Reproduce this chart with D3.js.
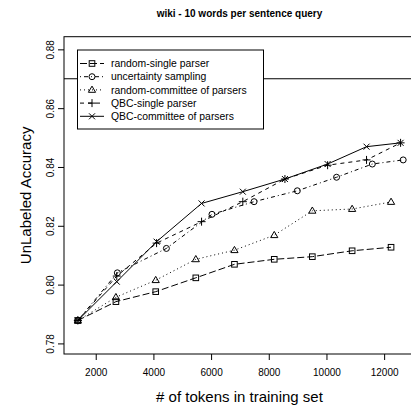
<!DOCTYPE html>
<html>
<head>
<meta charset="utf-8">
<script src="https://cdn.jsdelivr.net/npm/d3@7"></script>
<style>
  body { margin: 0; background: #fff; }
  text { font-family: "Liberation Sans", Arial, sans-serif; fill: #000; }
</style>
</head>
<body>
<div id="vis"></div>
<script>
// values
var tokensRandom = [1380, 2700, 4080, 5470, 6810, 8190, 9510, 10890, 12240];
var tokensUncert = [1380, 2750, 4450, 6030, 7490, 8990, 10350, 11590, 12660];
var tokensQbc    = [1380, 2730, 4110, 5670, 7100, 8560, 10040, 11390, 12570];

var randomSingle    = [0.7878, 0.7942, 0.7976, 0.8023, 0.8069, 0.8086, 0.8095, 0.8115, 0.8127];
var uncertainty     = [0.7878, 0.8040, 0.8123, 0.8239, 0.8282, 0.8319, 0.8365, 0.8410, 0.8424];
var randomCommittee = [0.7878, 0.7957, 0.8015, 0.8086, 0.8117, 0.8168, 0.8251, 0.8257, 0.8281];
var qbcSingle       = [0.7878, 0.8029, 0.8141, 0.8214, 0.8282, 0.8359, 0.8406, 0.8424, 0.8482];
var qbcCommittee    = [0.7878, 0.8010, 0.8146, 0.8276, 0.8316, 0.8359, 0.8410, 0.8469, 0.8482];

var seriesNames = ["random-single parser", "uncertainty sampling", "random-committee of parsers",
                   "QBC-single parser", "QBC-committee of parsers"];
var xTicks = [2000, 4000, 6000, 8000, 10000, 12000];
var yTicks = [0.78, 0.80, 0.82, 0.84, 0.86, 0.88];
var refLine = 0.87;

var width = 411, height = 406;
var plot = {left: 64, right: 415, top: 36.7, bottom: 354};

var series = [
  {name: seriesNames[0], x: tokensRandom, y: randomSingle,    dash: "7,3",     pch: "square"},
  {name: seriesNames[1], x: tokensUncert, y: uncertainty,     dash: "1,3,4,3", pch: "circle"},
  {name: seriesNames[2], x: tokensRandom, y: randomCommittee, dash: "1,3",     pch: "triangle"},
  {name: seriesNames[3], x: tokensQbc,    y: qbcSingle,       dash: "4,4",     pch: "plus"},
  {name: seriesNames[4], x: tokensQbc,    y: qbcCommittee,    dash: null,      pch: "cross"}
];

var svg = d3.select("#vis").append("svg")
  .attr("width", width)
  .attr("height", height);

var xScale = d3.scaleLinear()
  .domain([900, 13070])
  .range([plot.left, plot.right]);

var yScale = d3.scaleLinear()
  .domain([0.7764, 0.8843])
  .range([plot.bottom, plot.top]);

// title
svg.append("text")
  .attr("x", (plot.left + plot.right) / 2)
  .attr("y", 17)
  .attr("text-anchor", "middle")
  .style("font-size", "10px")
  .style("font-weight", "bold")
  .text("wiki - 10 words per sentence query");

// x axis
var xAxis = svg.append("g")
  .attr("transform", "translate(0," + plot.bottom + ")")
  .call(d3.axisBottom(xScale).tickValues(xTicks).tickSize(6).tickPadding(9).tickFormat(d3.format("d")));
xAxis.select(".domain").remove();
xAxis.selectAll("text").style("font-size", "10px").style("font-family", "Liberation Sans, Arial, sans-serif");

// y axis, labels parallel to the axis
var yAxis = svg.append("g")
  .attr("transform", "translate(" + plot.left + ",0)")
  .call(d3.axisLeft(yScale).tickValues(yTicks).tickSize(6).tickFormat(d3.format(".2f")));
yAxis.select(".domain").remove();
yAxis.selectAll("text")
  .style("font-size", "10px")
  .style("font-family", "Liberation Sans, Arial, sans-serif")
  .attr("text-anchor", "middle")
  .attr("x", 0)
  .attr("y", 0)
  .attr("dy", "0.32em")
  .attr("transform", "translate(-13,0) rotate(-90)");

svg.selectAll(".tick line").attr("stroke", "#000");

// box
svg.append("rect")
  .attr("x", plot.left)
  .attr("y", plot.top)
  .attr("width", plot.right - plot.left)
  .attr("height", plot.bottom - plot.top)
  .attr("fill", "none")
  .attr("stroke", "#000")
  .attr("stroke-width", 1);

// axis labels
svg.append("text")
  .attr("x", (plot.left + plot.right) / 2)
  .attr("y", 402)
  .attr("text-anchor", "middle")
  .style("font-size", "15px")
  .text("# of tokens in training set");

svg.append("text")
  .attr("transform", "translate(31," + ((plot.top + plot.bottom) / 2) + ") rotate(-90)")
  .attr("text-anchor", "middle")
  .style("font-size", "15px")
  .text("UnLabeled Accuracy");

// reference line
svg.append("line")
  .attr("x1", plot.left).attr("x2", plot.right)
  .attr("y1", yScale(refLine)).attr("y2", yScale(refLine))
  .attr("stroke", "#000");

function drawMarker(g, pch, cx, cy) {
  if (pch == "square") {
    g.append("rect").attr("x", cx - 2.8).attr("y", cy - 2.8).attr("width", 5.6).attr("height", 5.6)
      .attr("fill", "none").attr("stroke", "#000");
  } else if (pch == "circle") {
    g.append("circle").attr("cx", cx).attr("cy", cy).attr("r", 3)
      .attr("fill", "none").attr("stroke", "#000");
  } else if (pch == "triangle") {
    g.append("path")
      .attr("d", "M" + cx + "," + (cy - 3.8) + "L" + (cx + 3.6) + "," + (cy + 2.4) + "L" + (cx - 3.6) + "," + (cy + 2.4) + "Z")
      .attr("fill", "none").attr("stroke", "#000");
  } else if (pch == "plus") {
    g.append("path")
      .attr("d", "M" + (cx - 4) + "," + cy + "H" + (cx + 4) + "M" + cx + "," + (cy - 4) + "V" + (cy + 4))
      .attr("stroke", "#000");
  } else {
    g.append("path")
      .attr("d", "M" + (cx - 3) + "," + (cy - 3) + "L" + (cx + 3) + "," + (cy + 3) +
                 "M" + (cx - 3) + "," + (cy + 3) + "L" + (cx + 3) + "," + (cy - 3))
      .attr("stroke", "#000");
  }
}

var line = d3.line()
  .x(function(d) { return xScale(d[0]); })
  .y(function(d) { return yScale(d[1]); });

var lines = svg.append("g");
series.forEach(function(s) {
  var pts = s.x.map(function(v, i) { return [v, s.y[i]]; });
  lines.append("path")
    .attr("d", line(pts))
    .attr("fill", "none")
    .attr("stroke", "#000")
    .attr("stroke-dasharray", s.dash);
  var mk = lines.append("g");
  pts.forEach(function(p) { drawMarker(mk, s.pch, xScale(p[0]), yScale(p[1])); });
});

// legend
var lg = svg.append("g");
lg.append("rect")
  .attr("x", 77.5).attr("y", 50)
  .attr("width", 186).attr("height", 79)
  .attr("fill", "#fff").attr("stroke", "#000");

series.forEach(function(s, i) {
  var ly = 63.5 + i * 13.2;
  lg.append("line")
    .attr("x1", 80).attr("x2", 104)
    .attr("y1", ly).attr("y2", ly)
    .attr("stroke", "#000")
    .attr("stroke-dasharray", s.dash);
  drawMarker(lg, s.pch, 92, ly);
  lg.append("text")
    .attr("x", 111)
    .attr("y", ly)
    .attr("dy", "0.35em")
    .style("font-size", "10.4px")
    .text(s.name);
});
</script>
</body>
</html>
